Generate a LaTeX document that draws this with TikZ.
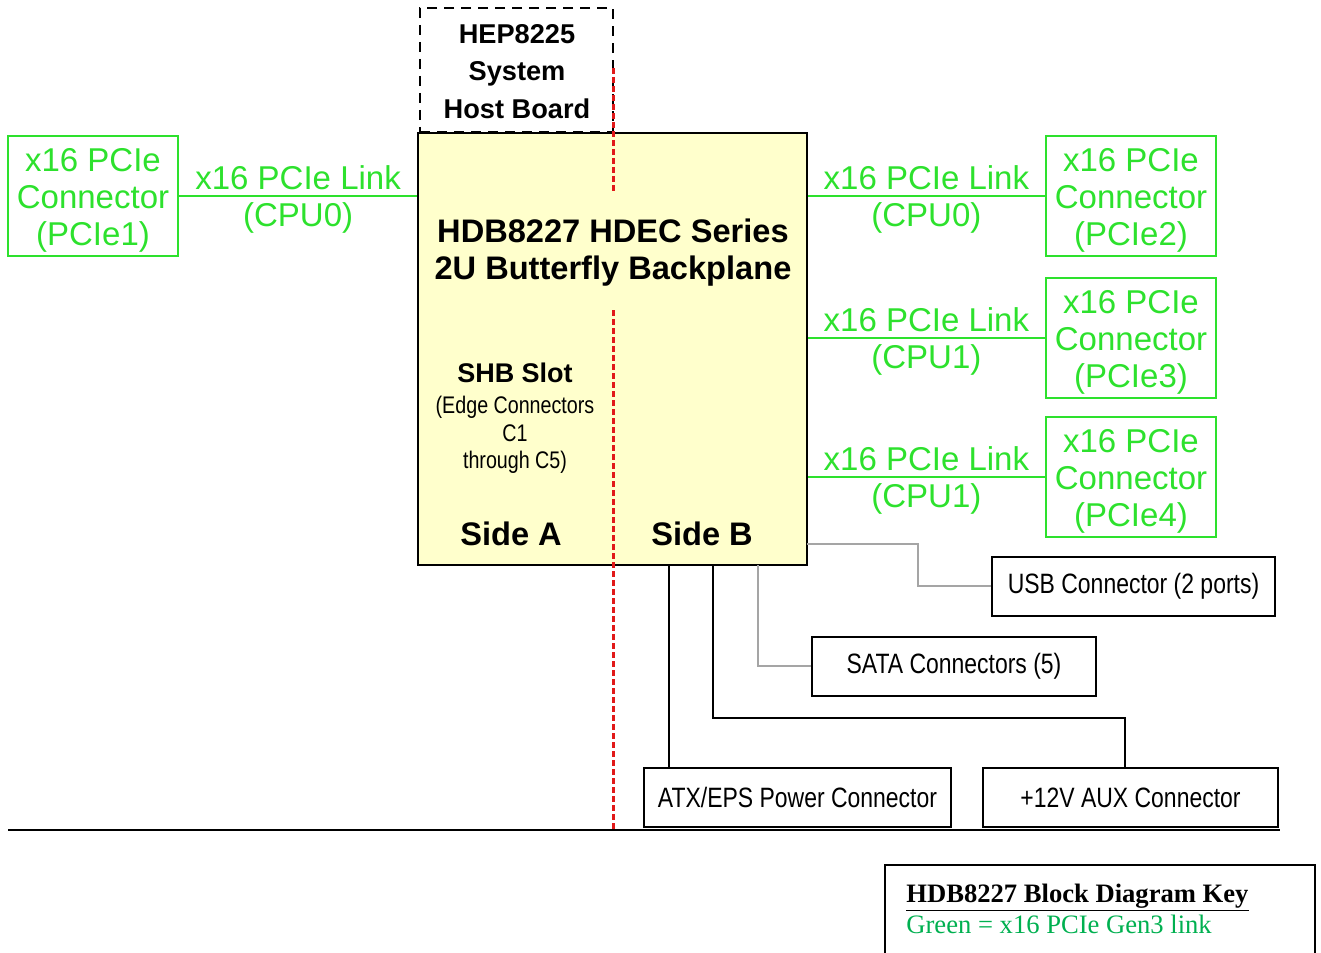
\documentclass[tikz,border=0pt]{standalone}
\usepackage{fontspec}
\setmainfont{Liberation Sans}
\newfontfamily\narrowfont[FakeStretch=0.82]{Liberation Sans}
\newfontfamily\keyfont{Liberation Serif}
\usetikzlibrary{positioning, calc}
\definecolor{pciegreen}{RGB}{45,225,45}
\definecolor{keygreen}{RGB}{0,176,80}
\definecolor{bpyellow}{RGB}{255,255,204}
\definecolor{tapgray}{RGB}{165,165,165}
\definecolor{slotred}{RGB}{225,25,25}

\begin{document}
\begin{tikzpicture}[x=0.5pt, y=-0.5pt,
  pciebox/.style={draw=pciegreen, line width=1.2pt, minimum width=85pt, minimum height=60pt, inner sep=0pt},
  pcietext/.style={yshift=-2pt, inner sep=0pt, align=center, text=pciegreen, font=\fontsize{16.5}{18.5}\selectfont},
  linkline/.style={draw=pciegreen, line width=1.2pt},
  linklabel/.style={text=pciegreen, inner sep=2.5pt, font=\fontsize{16.5}{18.5}\selectfont},
  portbox/.style={draw, line width=1pt, minimum height=29.5pt, inner sep=0pt, font=\narrowfont\fontsize{14}{16}\selectfont},
  bigbold/.style={font=\bfseries\fontsize{16.3}{18.5}\selectfont, align=center},
  slotline/.style={draw=slotred, line width=1.5pt, dash pattern=on 3pt off 1.5pt},
  tapline/.style={draw=tapgray, line width=0.6pt},
  powerline/.style={draw, line width=1pt}]
\useasboundingbox (0,0) rectangle (1321,952);

% Backplane and host board
\node[draw, line width=1pt, fill=bpyellow, minimum width=194.5pt, minimum height=216pt] (bp) at (612.5,349) {};
\node[draw, dash pattern=on 5pt off 3.5pt, line width=1pt, minimum width=96.5pt, minimum height=62pt] (shb) at (516.5,70) {};
\node[align=center, font=\bfseries\fontsize{13.6}{18.75}\selectfont] (shbtext) at (517,71.5) {HEP8225\\System\\Host Board};

\node[bigbold] (bptitle) at (613,252.5) {HDB8227 HDEC Series\\2U Butterfly Backplane};
\node[font=\bfseries\fontsize{13.5}{16}\selectfont] (slot) at (515,373) {SHB Slot};
\node[align=center, font=\narrowfont\fontsize{12}{13.75}\selectfont] (edge) at (515,435) {(Edge Connectors\\C1\\through C5)};
\node[bigbold] (sidea) at (511,534) {Side A};
\node[bigbold] (sideb) at (702,534) {Side B};

% Slot divider
\draw[slotline] (613,68) -- (613,193);
\draw[slotline] (613,310) -- (613,830);

% PCIe connectors
\node[pciebox, label={[pcietext]center:{x16 PCIe\\Connector\\(PCIe1)}}] (c1) at (93,196) {};
\draw[linkline] (c1.east) -- (c1.east -| bp.west) node[midway, above, linklabel] {x16 PCIe Link} node[midway, below, linklabel] {(CPU0)};

\foreach \n/\y/\cpu in {2/196/0, 3/338/1, 4/477/1} {
   \node[pciebox, label={[pcietext]center:{x16 PCIe\\Connector\\(PCIe\n)}}] (c\n) at (1131,\y) {};
   \draw[linkline] (c\n.west -| bp.east) -- (c\n.west) node[midway, above, linklabel] {x16 PCIe Link} node[midway, below, linklabel] {(CPU\cpu)};
}

% Side B connectors
\node[portbox, minimum width=141.5pt] (usb) at (1133.5,586) {USB Connector (2 ports)};
\node[portbox, minimum width=142pt] (sata) at (954,666) {SATA Connectors (5)};
\node[portbox, minimum width=153.5pt] (atx) at (797.5,797.5) {ATX/EPS Power Connector};
\node[portbox, minimum width=147.5pt] (aux) at (1130.5,797.5) {+12V AUX Connector};

\coordinate (usbtap) at (807,544);
\coordinate (usbbend) at (918,544);
\coordinate (satatap) at (758,565);
\coordinate (atxtap) at (669,565);
\coordinate (auxtap) at (713,565);
\coordinate (auxbend) at (1125,718);

\draw[tapline] (usbtap) -- (usbbend) |- (usb.west);
\draw[tapline] (satatap) |- (sata.west);
\draw[powerline] (atxtap) -- (atxtap |- atx.north);
\draw[powerline] (auxtap) |- (auxbend) -- (auxbend |- aux.north);

% Page rule and key
\draw[line width=1pt] (8,830) -- (1280,830);
\draw[line width=0.8pt] (885,990) -- (885,865) -- (1315,865) -- (1315,990);
\node[anchor=base west, inner sep=0pt, font=\keyfont\bfseries\fontsize{13.3}{15}\selectfont] (keytitle) at (906,902) {\underline{HDB8227 Block Diagram Key}};
\node[anchor=base west, inner sep=0pt, text=keygreen, font=\keyfont\fontsize{13.3}{15}\selectfont] (keytext) at (906,933) {Green = x16 PCIe Gen3 link};
\end{tikzpicture}
\end{document}
